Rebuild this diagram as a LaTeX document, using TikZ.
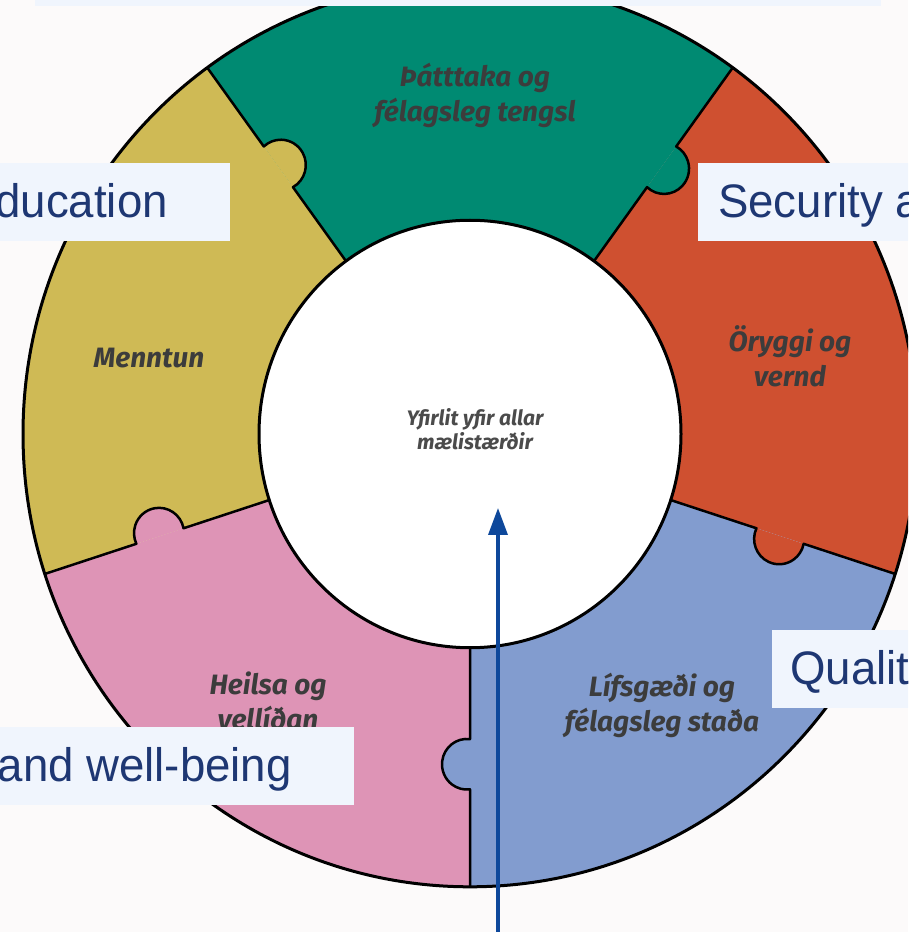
\documentclass[tikz,border=0pt]{standalone}
\usepackage{fontspec}
\usetikzlibrary{arrows.meta}
\newfontfamily\labelfont{Liberation Sans}[FakeStretch=0.97]
\newfontfamily\piecefont{Fira Sans}
\definecolor{bgcol}{RGB}{252,250,250}
\definecolor{boxcol}{RGB}{240,245,253}
\definecolor{navy}{RGB}{30,55,115}
\definecolor{arrowblue}{RGB}{14,72,155}
\definecolor{pgreen}{RGB}{0,138,114}
\definecolor{pyellow}{RGB}{207,186,85}
\definecolor{pred}{RGB}{207,80,48}
\definecolor{ppink}{RGB}{222,148,182}
\definecolor{pblue}{RGB}{130,156,207}
\definecolor{ptext}{RGB}{60,60,60}
\definecolor{ctext}{RGB}{75,75,75}
\newcommand{\duoline}[2]{\begin{tabular}[t]{@{}c@{}}#1\\#2\end{tabular}}
\begin{document}
\begin{tikzpicture}[x=1pt,y=1pt,
  labelbox/.style={fill=boxcol, text=navy, font=\labelfont\fontsize{47}{56}\selectfont,
    minimum height=78pt, text height=34pt, text depth=4pt, inner ysep=0pt},
  piecelabel/.style={text=ptext, font=\piecefont\bfseries\itshape\fontsize{28}{35}\selectfont,
    inner sep=0pt, anchor=base},
  centerlabel/.style={text=ctext, font=\piecefont\bfseries\itshape\fontsize{21}{22}\selectfont,
    inner sep=0pt, anchor=base},
  seamline/.style={draw=black, line width=2.5pt, line join=round},
  ringline/.style={draw=black, line width=3pt},
  arrowline/.style={draw=arrowblue, line width=3.5pt, -{Triangle[length=27pt,width=19pt]}}
]
\useasboundingbox (0,0) rectangle (908,932);
\clip (0,0) rectangle (908,932);
\fill[bgcol] (0,0) rectangle (908,932);

% ring of five puzzle pieces
\begin{scope}[shift={(470,498)}, yscale=1.013]
  \fill[pred]    (0,0) -- (-18:447) arc[start angle=-18, end angle=54, radius=447] -- cycle;
  \fill[pgreen]  (0,0) -- (54:447)  arc[start angle=54, end angle=126, radius=447] -- cycle;
  \fill[pyellow] (0,0) -- (126:447) arc[start angle=126, end angle=198, radius=447] -- cycle;
  \fill[ppink]   (0,0) -- (198:447) arc[start angle=198, end angle=270, radius=447] -- cycle;
  \fill[pblue]   (0,0) -- (270:447) arc[start angle=270, end angle=342, radius=447] -- cycle;
  \foreach \ang/\col in {126/pyellow, 54/pgreen, -18/pred, -90/pblue, 198/ppink}{
    \begin{scope}[rotate=\ang]
      \fill[\col] (301.18,0) arc[start angle=173.11, end angle=366.89, radius=25] -- cycle;
      \draw[seamline] (211,0) -- (301.18,0) arc[start angle=173.11, end angle=366.89, radius=25] -- (447,0);
    \end{scope}
  }
  \fill[white] (0,0) circle[radius=211];
  \draw[ringline] (0,0) circle[radius=211];
  \draw[ringline] (0,0) circle[radius=447];
\end{scope}

% piece labels
\node[piecelabel] (green) at (475,845) {\duoline{Þátttaka og}{félagsleg tengsl}};
\node[piecelabel] (yellow) at (149,564) {Menntun};
\node[piecelabel] (red) at (790,580) {\duoline{Öryggi og}{vernd}};
\node[piecelabel] (pink) at (268,237) {\duoline{Heilsa og}{vellíðan}};
\node[piecelabel] (blue) at (662,235) {\duoline{Lífsgæði og}{félagsleg staða}};
\node[centerlabel] (center) at (475,506) {\duoline{Yfirlit yfir allar}{mælistærðir}};

% English label boxes
\node[labelbox, anchor=south west, minimum width=846pt, minimum height=20pt, text height=0pt, text depth=0pt] (topbox) at (35,926) {};
\node[labelbox, anchor=north east, inner xsep=62pt] (edu) at (230,769) {Education};
\node[labelbox, anchor=north west, inner xsep=20pt] (sec) at (698,769) {Security a};
\node[labelbox, anchor=north west, inner xsep=18pt] (qual) at (772,302) {Qualit};
\node[labelbox, anchor=north east, inner xsep=62pt] (health) at (354,205) {and well-being};

% arrow
\coordinate (arrowstart) at (498,-10);
\coordinate (arrowtip) at (498,424);
\draw[arrowline] (arrowstart) -- (arrowtip);
\end{tikzpicture}
\end{document}
